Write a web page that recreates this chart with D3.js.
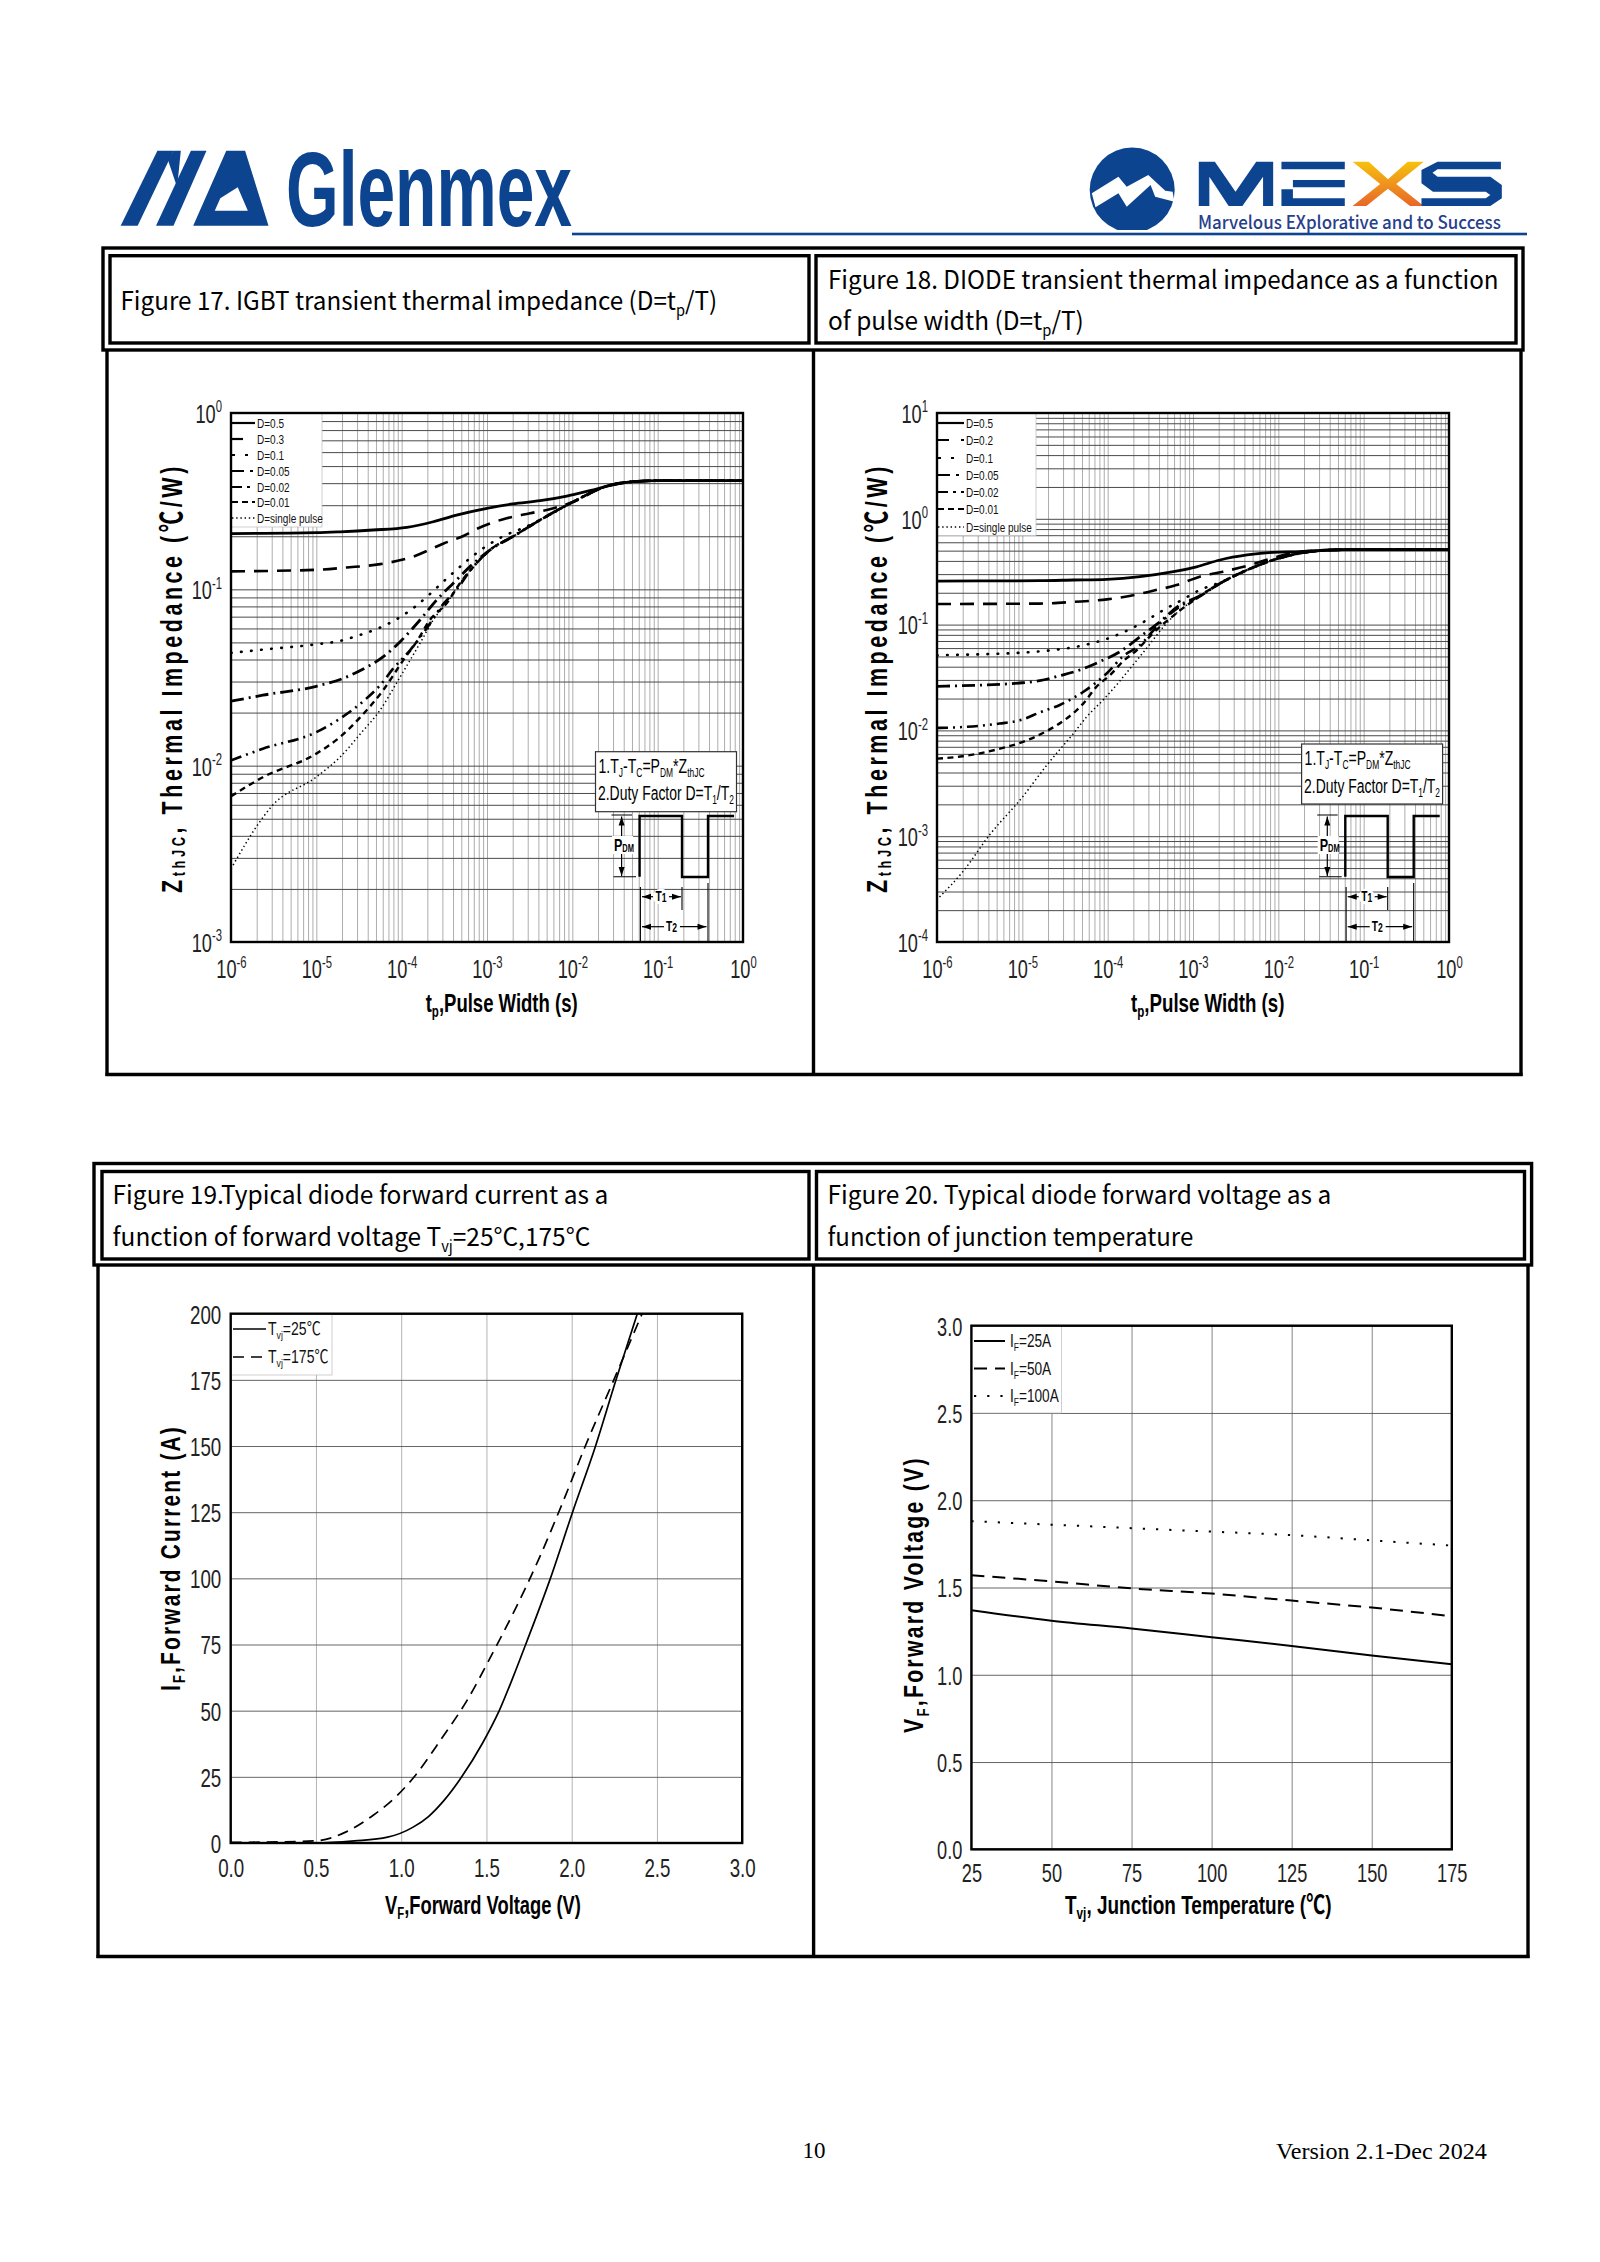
<!DOCTYPE html>
<html><head><meta charset="utf-8">
<script src="https://cdn.jsdelivr.net/npm/d3@7/dist/d3.min.js"></script>
<style>html,body{margin:0;padding:0;background:#fff}svg{display:block}</style>
</head><body><svg id="page" width="1600" height="2262" viewBox="0 0 1600 2262"></svg>
<script>
// ---------- Figure 17 : [t, Zth]
const fig17_D05=[[1e-6,.207],[1e-5,.2095],[1.9e-5,.212],[4.6e-5,.217],[1.15e-4,.2245],[2.34e-4,.2417],[4.4e-4,.2636],[1e-3,.288],[2e-3,.305],[4.2e-3,.318],[8.6e-3,.338],[1.6e-2,.363],[3.3e-2,.395],[5.2e-2,.408],[1e-1,.413],[1,.413]];
const fig17_D03=[[1e-6,.1265],[1e-5,.129],[2.27e-5,.133],[5.6e-5,.139],[1.35e-4,.153],[3.1e-4,.182],[5.2e-4,.2],[7.9e-4,.222],[1.7e-3,.253],[3.2e-3,.27],[6e-3,.288],[1.03e-2,.314],[2.5e-2,.385],[5.2e-2,.408],[1e-1,.413],[1,.413]];
const fig17_D01=[[1e-6,.0436],[2.36e-6,.0455],[1e-5,.0488],[1.9e-5,.051],[3.2e-5,.055],[5.3e-5,.06],[8.7e-5,.0676],[1.43e-4,.0796],[2.14e-4,.094],[3.5e-4,.117],[5.8e-4,.145],[9.5e-4,.174],[1.55e-3,.2],[2.6e-3,.222],[4.17e-3,.247],[1.03e-2,.314],[2.53e-2,.385],[5.2e-2,.408],[1e-1,.413],[1,.413]];
const fig17_D005=[[1e-6,.0232],[2.36e-6,.0251],[1e-5,.0282],[2.07e-5,.0313],[3.5e-5,.0352],[6.1e-5,.0415],[1e-4,.0515],[1.64e-4,.067],[2.57e-4,.087],[4e-4,.108],[6.9e-4,.14],[1.08e-3,.167],[2.04e-3,.2],[4.17e-3,.247],[1.03e-2,.314],[2.53e-2,.385],[5.2e-2,.408],[1e-1,.413],[1,.413]];
const fig17_D002=[[1e-6,.0107],[2.36e-6,.01247],[1e-5,.0155],[1.9e-5,.0185],[3.7e-5,.0236],[5.6e-5,.0286],[8e-5,.0356],[1.26e-4,.0453],[1.96e-4,.06],[3.1e-4,.083],[4.2e-4,.097],[6.9e-4,.134],[1.08e-3,.167],[2.04e-3,.2],[4.17e-3,.247],[1.03e-2,.314],[2.53e-2,.385],[5.2e-2,.408],[1e-1,.413],[1,.413]];
const fig17_D001=[[1e-6,.0067],[2.36e-6,.0086],[1e-5,.0117],[1.9e-5,.01455],[3.2e-5,.0186],[6.1e-5,.0269],[1.05e-4,.0398],[1.5e-4,.0505],[2.14e-4,.067],[3.37e-4,.0835],[4.8e-4,.108],[6.9e-4,.134],[1.08e-3,.167],[2.04e-3,.2],[4.17e-3,.247],[1.03e-2,.314],[2.53e-2,.385],[5.2e-2,.408],[1e-1,.413],[1,.413]];
const fig17_single=[[1e-6,.0026],[2.1e-6,.00469],[2.95e-6,.00583],[1e-5,.00863],[1.9e-5,.0112],[3.3e-5,.0152],[5.6e-5,.0207],[8.7e-5,.0294],[1.26e-4,.0398],[1.72e-4,.0515],[2.34e-4,.067],[3.37e-4,.0835],[4.8e-4,.108],[6.9e-4,.134],[1.08e-3,.167],[2.04e-3,.2],[4.17e-3,.247],[1.03e-2,.314],[2.53e-2,.385],[5.2e-2,.408],[1e-1,.413],[1,.413]];
const fig17_labels=["D=0.5","D=0.3","D=0.1","D=0.05","D=0.02","D=0.01","D=single pulse"];
// ---------- Figure 18
const fig18_D05=[[1e-6,.258],[1.6e-5,.26],[4e-5,.264],[9.8e-5,.268],[2.4e-4,.284],[5.9e-4,.316],[1.1e-3,.352],[2.07e-3,.408],[4.3e-3,.455],[8.7e-3,.482],[1.79e-2,.489],[5.2e-2,.51],[1e-1,.512],[1,.512]];
const fig18_D02=[[1e-6,.1566],[1.6e-5,.158],[4e-5,.164],[9.8e-5,.173],[1.8e-4,.186],[3.4e-4,.209],[6.4e-4,.2366],[1.2e-3,.284],[2.24e-3,.316],[4.7e-3,.366],[8.7e-3,.427],[1.6e-2,.479],[5.2e-2,.51],[1e-1,.512],[1,.512]];
const fig18_D01=[[1e-6,.0513],[2.2e-6,.052],[5.4e-6,.0531],[1e-5,.0543],[1.93e-5,.0566],[4.3e-5,.0618],[9.3e-5,.0724],[1.5e-4,.084],[2.75e-4,.108],[4.5e-4,.137],[7.4e-4,.171],[1.2e-3,.212],[2.07e-3,.25],[4.3e-3,.328],[8.7e-3,.408],[1.79e-2,.472],[5.2e-2,.51],[1e-1,.512],[1,.512]];
const fig18_D005=[[1e-6,.0261],[2e-6,.0265],[5.4e-6,.0272],[1e-5,.0282],[1.6e-5,.0295],[2.75e-5,.0329],[4.7e-5,.0372],[8.1e-5,.0447],[1.4e-4,.0555],[2.4e-4,.0769],[4.1e-4,.1064],[7e-4,.153],[1.1e-3,.18],[2.07e-3,.245],[4.3e-3,.328],[8.7e-3,.408],[1.79e-2,.472],[5.2e-2,.51],[1e-1,.512],[1,.512]];
const fig18_D002=[[1e-6,.01054],[2e-6,.01076],[5.4e-6,.0116],[1e-5,.01265],[1.6e-5,.0148],[2.75e-5,.0174],[5.2e-5,.0232],[9.8e-5,.0347],[1.5e-4,.0498],[2.4e-4,.0641],[3.76e-4,.0955],[7e-4,.148],[1.1e-3,.177],[2.07e-3,.245],[4.3e-3,.328],[8.7e-3,.408],[1.79e-2,.472],[5.2e-2,.51],[1e-1,.512],[1,.512]];
const fig18_D001=[[1e-6,.0054],[2e-6,.0057],[5.4e-6,.0067],[1e-5,.00776],[2e-5,.01],[3.2e-5,.0127],[5.2e-5,.018],[7.4e-5,.0259],[1.07e-4,.0334],[1.5e-4,.0447],[2.2e-4,.0575],[3.4e-4,.083],[6.4e-4,.128],[1.1e-3,.177],[2.07e-3,.245],[4.3e-3,.328],[8.7e-3,.408],[1.79e-2,.472],[5.2e-2,.51],[1e-1,.512],[1,.512]];
const fig18_single=[[1.07e-6,2.66e-4],[2e-6,4.6e-4],[4.1e-6,1.02e-3],[1e-5,2.34e-3],[2e-5,4.85e-3],[4.1e-5,9.66e-3],[5.7e-5,.0135],[8.9e-5,.0195],[1.3e-4,.0275],[2e-4,.042],[2.87e-4,.06],[4.5e-4,.095],[6.4e-4,.128],[1.1e-3,.177],[2.07e-3,.245],[4.3e-3,.328],[8.7e-3,.408],[1.79e-2,.472],[5.2e-2,.51],[1e-1,.512],[1,.512]];
const fig18_labels=["D=0.5","D=0.2","D=0.1","D=0.05","D=0.02","D=0.01","D=single pulse"];
// ---------- Figure 19 : [VF, IF]
const fig19_T25=[[0,0],[.5,0],[.725,.8],[.92,2.2],[1.07,6],[1.16,10],[1.25,16],[1.355,25],[1.475,37.5],[1.575,50],[1.655,62.5],[1.73,75],[1.875,100],[2.005,125],[2.14,150],[2.26,175],[2.385,200]];
const fig19_T175=[[0,.2],[.5,.8],[.68,4.3],[.836,10.5],[.974,17.8],[1.085,25.7],[1.237,39.5],[1.39,54.3],[1.53,71],[1.666,88],[1.805,107],[1.943,128],[2.08,150],[2.247,175],[2.413,200]];
// ---------- Figure 20
const fig20_temps=[25,50,75,100,125,150,175];
const fig20_I25=[1.37,1.31,1.265,1.215,1.165,1.11,1.06];
const fig20_I50=[1.57,1.535,1.495,1.465,1.425,1.385,1.335];
const fig20_I100=[1.88,1.86,1.84,1.82,1.80,1.77,1.74];
// ---------- tick labels
const logXTicks=[-6,-5,-4,-3,-2,-1,0];
const fig17_yExp=[-3,-2,-1,0];
const fig18_yExp=[-4,-3,-2,-1,0,1];
const fig19_xTicks=[0,.5,1,1.5,2,2.5,3];
const fig19_yTicks=[0,25,50,75,100,125,150,175,200];
const fig20_xTicks=[25,50,75,100,125,150,175];
const fig20_yTicks=[0,.5,1,1.5,2,2.5,3];

const svg=d3.select('#page');
const ARIAL='"Liberation Sans",Arial,sans-serif', NOTO='"Noto Sans CJK SC","Noto Sans",sans-serif', CJK='"Liberation Sans","Noto Sans CJK SC",sans-serif';
const BLUE='#0d4490';

function fitText(x,y,width,runs,o={}){
  const t=svg.append('text').attr('font-family',o.family||ARIAL).attr('font-size',o.size||24)
    .attr('font-weight',o.weight||'normal').attr('fill',o.fill||'#000').style('letter-spacing',o.spacing||null);
  const fs=o.size||24;
  let last=0;
  runs.forEach(r=>{
    const [s,k]=Array.isArray(r)?r:[r];
    const shift=k==='sub'?fs*(o.subShift||.2):k==='sup'?-fs*.38:0;
    const ts=t.append('tspan').text(s).attr('dy',shift-last);
    if(k)ts.attr('font-size',fs*(o.subScale||.62));
    last=shift;
  });
  const w=t.node().getComputedTextLength();
  const sx=width/w;
  t.attr('transform',`translate(${x},${y})${o.rot?' rotate(-90)':''} scale(${sx},1)`);
  return t;
}
function box(x0,y0,x1,y1,sw=3.4){svg.append('rect').attr('x',x0).attr('y',y0).attr('width',x1-x0).attr('height',y1-y0).attr('fill','none').attr('stroke','#000').attr('stroke-width',sw);}
function vline(x,y0,y1,sw=3.4){svg.append('line').attr('x1',x).attr('x2',x).attr('y1',y0).attr('y2',y1).attr('stroke','#000').attr('stroke-width',sw);}

box(103,248,1523,350); box(110,255.7,809,343); box(816,255.7,1516,343);
vline(107,350,1076); vline(813.5,350,1076); vline(1521,350,1076);
svg.append('line').attr('x1',105.5).attr('x2',1522.5).attr('y1',1074.5).attr('y2',1074.5).attr('stroke','#000').attr('stroke-width',3.4);
box(94,1163.5,1531.6,1265); box(102,1171.5,809,1259); box(816.5,1171.5,1524.5,1259);
vline(98,1265,1958); vline(813.6,1265,1958); vline(1528,1265,1958);
svg.append('line').attr('x1',96.5).attr('x2',1529.5).attr('y1',1956.5).attr('y2',1956.5).attr('stroke','#000').attr('stroke-width',3.4);

const T={family:NOTO,size:25,subScale:.6,subShift:.22};
fitText(120.5,310,597,['Figure 17. IGBT transient thermal impedance (D=t',['p','sub'],'/T)'],T);
fitText(828,289,671,['Figure 18. DIODE transient thermal impedance as a function'],T);
fitText(828,330,256,['of pulse width (D=t',['p','sub'],'/T)'],T);
fitText(112.6,1204,496,['Figure 19.Typical diode forward current as a'],T);
fitText(112.6,1246,478,['function of forward voltage T',['vj','sub'],'=25°C,175°C'],T);
fitText(827.5,1204,504,['Figure 20. Typical diode forward voltage as a'],T);
fitText(827.5,1246,366,['function of junction temperature'],T);

function poly(pts,fill=BLUE){svg.append('polygon').attr('points',pts.map(p=>p.join(',')).join(' ')).attr('fill',fill);}
const gz=(zx,zy)=>[100+zx/2.178,130+zy/3];
poly([[45,287],[82,287],[160,62],[125,62]].map(p=>gz(...p)));
poly([[122,287],[160,287],[232,62],[198,62]].map(p=>gz(...p)));
poly([[148,90],[160,62],[176,62],[168,172]].map(p=>gz(...p)));
svg.append('path').attr('fill',BLUE).attr('fill-rule','evenodd').attr('d',(()=>{
  const a=[[203,287],[275,62],[316,62],[367,287]].map(p=>gz(...p));
  const b=[[250,242],[322,242],[300,172],[262,205]].map(p=>gz(...p));
  return 'M'+a.join('L')+'Z M'+b.join('L')+'Z';})());
fitText(286,225.7,286,['Glenmex'],{size:106,weight:'bold',fill:BLUE});
svg.append('rect').attr('x',572).attr('y',232.7).attr('width',955).attr('height',2.6).attr('fill',BLUE);
const defs=svg.append('defs');
defs.append('clipPath').attr('id','cc').append('rect').attr('x',1080).attr('y',140).attr('width',110).attr('height',90);
const gr=defs.append('linearGradient').attr('id','xg').attr('x1',0).attr('x2',0).attr('y1',0).attr('y2',1);
gr.append('stop').attr('offset',0).attr('stop-color','#f6c20d');
gr.append('stop').attr('offset',1).attr('stop-color','#e8662a');
svg.append('ellipse').attr('cx',1132.2).attr('cy',190).attr('rx',42.5).attr('ry',42.5).attr('fill',BLUE).attr('clip-path','url(#cc)');
const mz=(zx,zy)=>[820+zx/2.178,130+zy/3];
poly([[592,190],[650,140],[668,170],[715,135],[752,182],[768,185],[772,215],[730,200],[720,165],[668,230],[650,190],[600,232]].map(p=>mz(...p)),'#fff');
poly([[825,95],[860,95],[905,185],[950,95],[987,95],[987,228],[965,228],[965,140],[920,228],[890,228],[848,140],[848,228],[825,228]].map(p=>mz(...p)));
poly([[1005,95],[1143,95],[1143,118],[1005,118]].map(p=>mz(...p)));
poly([[1030,150],[1143,150],[1143,172],[1030,172]].map(p=>mz(...p)));
poly([[1005,178],[1030,178],[1030,205],[1143,205],[1143,228],[1005,228]].map(p=>mz(...p)));
poly([[1160,95],[1195,95],[1237,148],[1280,95],[1315,95],[1255,162],[1315,228],[1285,228],[1237,176],[1190,228],[1160,228],[1220,162]].map(p=>mz(...p)),'url(#xg)');
poly([[1345,95],[1483,95],[1483,118],[1345,118],[1334,128],[1345,140],[1460,140],[1485,165],[1485,205],[1460,228],[1310,228],[1310,205],[1450,205],[1460,195],[1450,185],[1335,185],[1310,160],[1310,120]].map(p=>mz(...p)));
fitText(1198,229,303,['Marvelous EXplorative and to Success'],{family:NOTO,size:18,weight:'500',fill:'#27408b'});

svg.append('text').attr('x',814).attr('y',2158).attr('text-anchor','middle').attr('font-family','"Liberation Serif",serif').attr('font-size',23).text('10');
fitText(1276,2159,211,['Version 2.1-Dec 2024'],{family:'"Liberation Serif",serif',size:23});

function decorate(g,color,width){g.select('.domain').remove();g.selectAll('line').attr('stroke',color).attr('stroke-width',width);g.selectAll('text').remove();}
function labelAxis(g,o){
  g.select('.domain').remove();g.selectAll('line').remove();
  g.selectAll('text').each(function(d){
    const t=d3.select(this).attr('font-family',ARIAL).attr('font-size',o.size).attr('fill','#222');
    if(o.bottom){t.attr('y',o.off).attr('dy',0).attr('x',0);}
    else{t.attr('x',-o.off/o.sx).attr('dy',0).attr('y',o.size*.36);}
    t.attr('transform',`scale(${o.sx},1)`);
    if(o.exp){
      const e=Math.round(Math.log10(d));
      t.text(null);
      t.append('tspan').text('10');
      t.append('tspan').text(String(e)).attr('font-size',o.size*.62).attr('dy',-o.size*.4);
    }
  });
}
function chartFrame(x,y,o){
  const g=svg.append('g');
  g.append('g').attr('transform',`translate(0,${y.range()[1]})`)
    .call(d3.axisBottom(x).tickValues(o.xGrid).tickSize(y.range()[0]-y.range()[1]).tickFormat(''))
    .call(s=>decorate(s,o.vColor,o.vWidth));
  g.append('g').attr('transform',`translate(${x.range()[0]},0)`)
    .call(d3.axisRight(y).tickValues(o.yGrid).tickSize(x.range()[1]-x.range()[0]).tickFormat(''))
    .call(s=>decorate(s,o.hColor,o.hWidth));
  return g;
}
function chart(o){
  const {x,y}=o;
  const id='clip'+o.name;
  svg.select('defs').append('clipPath').attr('id',id).append('rect').attr('x',x.range()[0]).attr('y',y.range()[1]).attr('width',x.range()[1]-x.range()[0]).attr('height',y.range()[0]-y.range()[1]);
  chartFrame(x,y,o);
  const L=o.legend;
  svg.append('rect').attr('x',x.range()[0]).attr('y',y.range()[1]).attr('width',L.x1-x.range()[0]).attr('height',L.y1-y.range()[1]).attr('fill','#fff').attr('stroke','#bbb').attr('stroke-width',.7);
  const line=d3.line().x(d=>x(d[0])).y(d=>y(d[1])).curve(d3.curveMonotoneX);
  const cg=svg.append('g').attr('clip-path',`url(#${id})`);
  o.series.slice().reverse().forEach(s=>{
    cg.append('path').attr('d',line(s.data)).attr('fill','none').attr('stroke','#000').attr('stroke-width',s.w).attr('stroke-dasharray',s.dash||null).attr('stroke-linecap',s.round?'round':null);
  });
  o.series.forEach((s,i)=>{
    const yy=L.ys[i];
    svg.append('line').attr('x1',L.lx0).attr('x2',L.lx1).attr('y1',yy).attr('y2',yy).attr('stroke','#000').attr('stroke-width',Math.min(s.w,2.2)).attr('stroke-dasharray',s.ldash||s.dash||null);
    const tx=svg.append('text').attr('font-family',CJK).attr('font-size',L.size).attr('fill','#111').attr('transform',`translate(${L.tx},${yy+L.size*.36}) scale(${L.sx},1)`);
    s.label.forEach(r=>{
      const [str,k]=Array.isArray(r)?r:[r];
      const ts=tx.append('tspan').text(str);
      if(k==='sub')ts.attr('font-size',L.size*.62).attr('dy',L.size*.22);
      else if(tx.selectAll('tspan').size()>1)ts.attr('dy',-L.size*.22);
    });
  });
  svg.append('g').attr('transform',`translate(0,${y.range()[0]})`).call(d3.axisBottom(x).tickValues(o.xTicks).tickFormat(o.xFmt||(d=>d))).call(s=>labelAxis(s,{bottom:true,off:o.xOff,size:o.fs,sx:o.sx,exp:o.exp}));
  svg.append('g').attr('transform',`translate(${x.range()[0]},0)`).call(d3.axisLeft(y).tickValues(o.yTicks).tickFormat(o.yFmt||(d=>d))).call(s=>labelAxis(s,{off:o.yOff,size:o.fs,sx:o.sx,exp:o.exp}));
  svg.append('rect').attr('x',x.range()[0]).attr('y',y.range()[1]).attr('width',x.range()[1]-x.range()[0]).attr('height',y.range()[0]-y.range()[1]).attr('fill','none').attr('stroke','#000').attr('stroke-width',2.4);
}
function minorTicks(lo,hi){const a=[];for(let e=lo;e<hi;e++)for(let m=1;m<10;m++)a.push(m*10**e);a.push(10**hi);return a;}
const exp=a=>a.map(e=>10**e);

function zSeries(labels,arrs){
  const w=[2.8,2.6,2.6,2.8,2.6,2.4,1.5];
  const ds=[null,'14 9','0.6 9.5','13 5 2 5','11 5 2 5 2 5','6 4.5','1.4 2.8'];
  const ld=[null,'11 12 3 100','3 10','12 6 3 100','10 5 3 5 3 100','6 4',null];
  return labels.map((l,i)=>({label:[l],data:arrs[i],w:w[i],dash:ds[i],ldash:ld[i]||ds[i],round:i===2}));
}
const zxBase=(x0,x1)=>d3.scaleLog().domain([1e-6,1]).range([x0,x1]);
const zOpts={vColor:'#adadad',vWidth:1,hColor:'#4a4a4a',hWidth:1,fs:26,sx:.7,xOff:36,yOff:9,exp:true,xGrid:minorTicks(-6,0),xTicks:exp(logXTicks)};

chart({...zOpts,name:'a',x:zxBase(231,743),y:d3.scaleLog().domain([1e-3,1]).range([942,413]),yGrid:minorTicks(-3,0),yTicks:exp(fig17_yExp),
  series:zSeries(fig17_labels,[fig17_D05,fig17_D03,fig17_D01,fig17_D005,fig17_D002,fig17_D001,fig17_single]),
  legend:{x1:322,y1:527,ys:[423,439,455,471,487,502,518],lx0:232,lx1:255,tx:257,size:13,sx:.77}});
chart({...zOpts,name:'b',x:zxBase(937,1449),y:d3.scaleLog().domain([1e-4,10]).range([942,413]),yGrid:minorTicks(-4,1),yTicks:exp(fig18_yExp),
  series:zSeries(fig18_labels,[fig18_D05,fig18_D02,fig18_D01,fig18_D005,fig18_D002,fig18_D001,fig18_single]),
  legend:{x1:1036,y1:535.7,ys:[423,440,458,475,492,509,527],lx0:938,lx1:964,tx:966,size:13,sx:.77}});

const f1=d=>d.toFixed(1);
chart({name:'c',x:d3.scaleLinear().domain([0,3]).range([230.7,742.2]),y:d3.scaleLinear().domain([0,200]).range([1843,1313.7]),
  vColor:'#b4b4b4',vWidth:1,hColor:'#555',hWidth:.9,fs:26,sx:.72,xOff:34,yOff:9.5,xGrid:fig19_xTicks,yGrid:fig19_yTicks,xTicks:fig19_xTicks,yTicks:fig19_yTicks,xFmt:f1,
  series:[{label:['T',['vj','sub'],'=25℃'],data:fig19_T25,w:1.7},{label:['T',['vj','sub'],'=175℃'],data:fig19_T175,w:1.7,dash:'11 7'}],
  legend:{x1:332,y1:1375,ys:[1329,1357],lx0:233,lx1:266,tx:268,size:18,sx:.78}});
const f20=fig20=>fig20_temps.map((t,i)=>[t,fig20[i]]);
chart({name:'d',x:d3.scaleLinear().domain([25,175]).range([971.4,1451.8]),y:d3.scaleLinear().domain([0,3]).range([1849.3,1325.7]),
  vColor:'#777',vWidth:.9,hColor:'#555',hWidth:.9,fs:26,sx:.7,xOff:33,yOff:9,xGrid:fig20_xTicks,yGrid:fig20_yTicks,xTicks:fig20_xTicks,yTicks:fig20_yTicks,yFmt:f1,
  series:[{label:['I',['F','sub'],'=25A'],data:f20(fig20_I25),w:2},{label:['I',['F','sub'],'=50A'],data:f20(fig20_I50),w:2,dash:'13 8'},{label:['I',['F','sub'],'=100A'],data:f20(fig20_I100),w:2,dash:'2.2 11'}],
  legend:{x1:1061.5,y1:1413,ys:[1341,1368.6,1396],lx0:974,lx1:1005,tx:1010,size:17.5,sx:.78}});

const B={weight:'bold',size:26};
fitText(425.7,1011.7,152,['t',['p','sub'],',Pulse Width (s)'],B);
fitText(1131,1011.7,153.5,['t',['p','sub'],',Pulse Width (s)'],B);
fitText(385,1913.6,196,['V',['F','sub'],',Forward Voltage (V)'],B);
fitText(1065,1913.6,266.5,['T',['vj','sub'],', Junction Temperature (℃)'],{...B,family:CJK});
const Y={weight:'bold',size:30,family:CJK,spacing:'5px',rot:true,subScale:.6,subShift:.12};
fitText(181.5,893,430,['Z',['thJC','sub'],', Thermal Impedance (℃/W)'],Y);
fitText(887,893,430,['Z',['thJC','sub'],', Thermal Impedance (℃/W)'],Y);
const Y2={weight:'bold',size:28,family:CJK,spacing:'3px',rot:true};
fitText(179.7,1691,266,['I',['F','sub'],',Forward Current (A)'],Y2);
fitText(923,1733,277,['V',['F','sub'],',Forward Voltage (V)'],Y2);

function annotation(dx,bx,by){
  svg.append('rect').attr('x',bx).attr('y',by).attr('width',141).attr('height',60).attr('fill','#fff').attr('stroke','#333').attr('stroke-width',1.2);
  const A={size:21,subScale:.6};
  fitText(bx+3,by+21,106,['1.T',['J','sub'],'-T',['C','sub'],'=P',['DM','sub'],'*Z',['thJC','sub']],A);
  fitText(bx+2.5,by+48.5,136,['2.Duty Factor D=T',['1','sub'],'/T',['2','sub']],A);
  const g=svg.append('g').attr('transform',`translate(${dx},0)`).attr('stroke','#000').attr('fill','none');
  g.append('path').attr('d','M639.6 876.7V816H682V877H708V816H734').attr('stroke-width',2.4);
  g.append('path').attr('d','M611.5 815H632M613.5 876.7H636M640.4 887V942M682 887V910M708 883V943').attr('stroke-width',1.1);
  const arrow=(x0,y0,x1,y1)=>{
    g.append('line').attr('x1',x0).attr('y1',y0).attr('x2',x1).attr('y2',y1).attr('stroke-width',1.2);
    const a=Math.atan2(y1-y0,x1-x0),L=9,W=3;
    const p=(l,w)=>[x1-l*Math.cos(a)-w*Math.sin(a),y1-l*Math.sin(a)+w*Math.cos(a)].join(',');
    g.append('polygon').attr('points',[p(0,0),p(L,W),p(L,-W)].join(' ')).attr('fill','#000').attr('stroke','none');
  };
  arrow(621.6,838,621.6,816.5);arrow(621.6,854,621.6,876);
  arrow(661,896.7,642,896.7);arrow(661,896.7,681,896.7);
  arrow(672,926.7,642,926.7);arrow(672,926.7,706.5,926.7);
  g.append('circle').attr('cx',661).attr('cy',896.7).attr('r',8).attr('fill','#fff').attr('stroke','none');
  g.append('circle').attr('cx',672).attr('cy',926.7).attr('r',8).attr('fill','#fff').attr('stroke','none');
  g.append('rect').attr('x',612).attr('y',836).attr('width',21).attr('height',18).attr('fill','#fff').attr('stroke','none');
  fitText(614+dx,851,20,['P',['DM','sub']],{size:17,weight:'bold',subScale:.6,subShift:.05});
  fitText(655.5+dx,901,11,['T',['1','sub']],{size:15,weight:'bold',subScale:.85,subShift:.05});
  fitText(666+dx,931,11,['T',['2','sub']],{size:15,weight:'bold',subScale:.85,subShift:.05});
}
annotation(0,595.5,751.7);
annotation(705.7,1301.6,744);
</script></body></html>
